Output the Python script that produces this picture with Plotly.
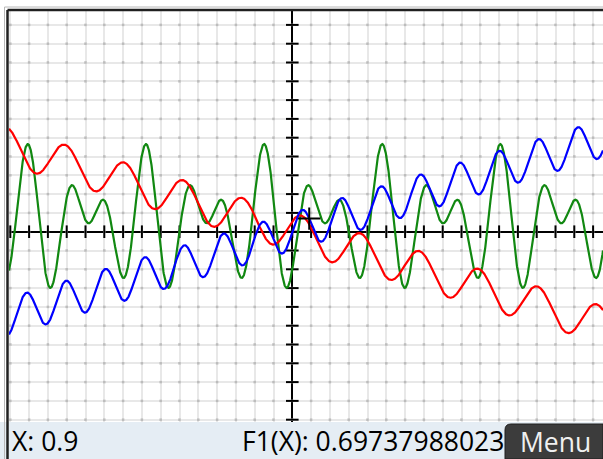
import numpy as np
import plotly.graph_objects as go

W, H = 603, 459

# graph view geometry (pixels)
ORIGIN_X, ORIGIN_Y = 292.3, 231.7
UNIT = 18.8
LEFT, RIGHT, TOP, BOTTOM = 9, 603, 11, 422

x_range = [(LEFT - ORIGIN_X) / UNIT, (RIGHT - ORIGIN_X) / UNIT]
y_range = [(ORIGIN_Y - BOTTOM) / UNIT, (ORIGIN_Y - TOP) / UNIT]

# function definitions (coefficients)
F1_COEF = [0.3, 1.0, 3.0]            # 0.3*X + SIN(3X)
F2_COEF = [-0.3, 1.0, 2.0, 0.6]      # -0.3*X + SIN(2X + 0.6)
F3_COEF = [0.6, -2.0, 2.0, -0.6]     # c0 + a*COS(2X) + b*SIN(3X) + c*COS(3X)

CURSOR_X = 0.9
STATUS_LEFT = "X: 0.9"
STATUS_RIGHT = "F1(X): 0.69737988023"
MENU_LABEL = "Menu"

X = np.linspace(x_range[0], x_range[1], 3000)


def F1(x):
    a, b, k = F1_COEF
    return a * x + b * np.sin(k * x)


def F2(x):
    a, b, k, p = F2_COEF
    return a * x + b * np.sin(k * x + p)


def F3(x):
    c0, a, b, c = F3_COEF
    return c0 + a * np.cos(2 * x) + b * np.sin(3 * x) + c * np.cos(3 * x)


fig = go.Figure()

# grid intersection dots
gx = np.arange(int(np.ceil(x_range[0])), int(np.floor(x_range[1])) + 1)
gy = np.arange(int(np.ceil(y_range[0])), int(np.floor(y_range[1])) + 1)
GX, GY = np.meshgrid(gx, gy)
fig.add_trace(go.Scatter(x=GX.ravel(), y=GY.ravel(), mode="markers",
                         marker=dict(symbol="square", size=2.5, color="#bcbcbc", line_width=0),
                         hoverinfo="skip"))

# axis tick marks
fig.add_trace(go.Scatter(x=gx, y=np.zeros_like(gx), mode="markers",
                         marker=dict(symbol="line-ns", size=9, line=dict(color="black", width=2)),
                         hoverinfo="skip"))
fig.add_trace(go.Scatter(x=np.zeros_like(gy), y=gy, mode="markers",
                         marker=dict(symbol="line-ew", size=9, line=dict(color="black", width=2)),
                         hoverinfo="skip"))

# curves
fig.add_trace(go.Scatter(x=X, y=F3(X), mode="lines", line=dict(color="#118811", width=2.2)))
fig.add_trace(go.Scatter(x=X, y=F2(X), mode="lines", line=dict(color="#ff0000", width=2.2)))
fig.add_trace(go.Scatter(x=X, y=F1(X), mode="lines", line=dict(color="#0000ff", width=2.2)))

# trace cursor
cy = F1(CURSOR_X)
fig.add_trace(go.Scatter(x=[CURSOR_X], y=[cy], mode="markers",
                         marker=dict(symbol="cross-thin", size=16, line=dict(color="black", width=2)),
                         hoverinfo="skip"))

fig.update_xaxes(range=x_range, domain=[LEFT / W, RIGHT / W], dtick=1, tick0=0,
                 showgrid=True, gridcolor="#e8e8e8", gridwidth=2,
                 zeroline=True, zerolinecolor="black", zerolinewidth=2,
                 showticklabels=False, ticks="", showline=False, fixedrange=True)
fig.update_yaxes(range=y_range, domain=[1 - BOTTOM / H, 1 - TOP / H], dtick=1, tick0=0,
                 showgrid=True, gridcolor="#e8e8e8", gridwidth=2,
                 zeroline=True, zerolinecolor="black", zerolinewidth=2,
                 showticklabels=False, ticks="", showline=False, fixedrange=True)


def px(x):
    return x / W


def py(y):
    return 1 - y / H


shapes = [
    # status bar
    dict(type="rect", xref="paper", yref="paper", x0=px(0), x1=px(W), y0=py(H), y1=py(BOTTOM),
         fillcolor="#e5edf4", line_width=0, layer="below"),
    # menu button
    dict(type="path", xref="paper", yref="paper",
         path=f"M {px(505)} {py(H)} L {px(505)} {py(430)} Q {px(505)} {py(424)} {px(511)} {py(424)} "
              f"L {px(W)} {py(424)} L {px(W)} {py(H)} Z",
         fillcolor="#3c3c3c", line=dict(color="#1e1e1e", width=1)),
    # window frame
    dict(type="line", xref="paper", yref="paper", x0=px(4.5), x1=px(4.5), y0=py(7), y1=py(H),
         line=dict(color="#b8b8b8", width=1)),
    dict(type="line", xref="paper", yref="paper", x0=px(4.5), x1=px(W), y0=py(7), y1=py(7),
         line=dict(color="#b8b8b8", width=1)),
    dict(type="line", xref="paper", yref="paper", x0=px(7.5), x1=px(7.5), y0=py(10), y1=py(H),
         line=dict(color="#202020", width=2.5)),
    dict(type="line", xref="paper", yref="paper", x0=px(7.5), x1=px(W), y0=py(10), y1=py(10),
         line=dict(color="#202020", width=2.5)),
]

FONT = "Open Sans"
annotations = [
    dict(xref="paper", yref="paper", x=px(10), y=py(441), xanchor="left", yanchor="middle",
         text=STATUS_LEFT, showarrow=False, font=dict(family=FONT, size=26.5, color="black")),
    dict(xref="paper", yref="paper", x=px(506), y=py(441), xanchor="right", yanchor="middle",
         text=STATUS_RIGHT, showarrow=False, font=dict(family=FONT, size=26.5, color="black")),
    dict(xref="paper", yref="paper", x=px(555), y=py(442), xanchor="center", yanchor="middle",
         text=MENU_LABEL, showarrow=False, font=dict(family=FONT, size=26.5, color="#f0f0f0")),
]

fig.update_layout(width=W, height=H, margin=dict(l=0, r=0, t=0, b=0),
                  paper_bgcolor="white", plot_bgcolor="white", showlegend=False,
                  shapes=shapes, annotations=annotations)

fig.write_html("out.html")
